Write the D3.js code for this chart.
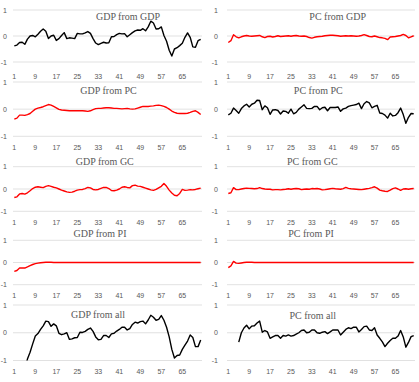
<!DOCTYPE html>
<html>
<head>
<meta charset="utf-8">
<script src="https://cdn.jsdelivr.net/npm/d3@7"></script>
<style>
  body { margin: 0; background: #fff; }
  svg { display: block; }
  .grid { stroke: #d9d9d9; stroke-width: 0.8; }
  .tick-label { font-family: "Liberation Sans", Arial, sans-serif; font-size: 7px; fill: #595959; }
  .title { font-family: "Liberation Serif", "Times New Roman", serif; font-size: 10px; fill: #595959; }
  .line { fill: none; stroke-width: 1.4; stroke-linejoin: round; }
</style>
</head>
<body>
<svg id="chart" width="419" height="382"></svg>
<script>
// impulse responses, 72 periods
var periods = d3.range(1, 73);
var xTickLabels = ["1", "9", "17", "25", "33", "41", "49", "57", "65"];
var yTicks = [1, 0, -1];

var gdpFromGdp = [-0.38,-0.35,-0.25,-0.24,-0.32,-0.12,0.0,0.02,-0.03,0.07,
  0.18,0.27,0.18,-0.1,0.0,0.03,-0.17,-0.1,0.02,0.13,
  -0.1,-0.07,-0.08,-0.1,0.1,0.08,0.08,0.12,0.17,0.1,
  -0.1,-0.27,-0.33,-0.28,-0.24,-0.27,-0.26,-0.03,-0.02,0.05,
  0.1,0.08,0.09,-0.03,0.05,0.13,0.2,0.23,0.22,0.28,
  0.2,0.35,0.57,0.5,0.27,0.28,0.35,0.02,-0.2,-0.55,
  -0.77,-0.5,-0.45,-0.37,-0.28,-0.05,0.12,-0.05,-0.42,-0.43,
  -0.18,-0.13];

var gdpFromPc = [-0.37,-0.33,-0.22,-0.22,-0.23,-0.2,-0.16,-0.08,0.0,0.04,
  0.06,0.09,0.13,0.17,0.15,0.1,0.05,-0.01,-0.03,-0.04,
  -0.05,-0.06,-0.06,-0.06,-0.06,-0.06,-0.06,-0.07,-0.08,-0.06,
  -0.02,0.02,0.03,0.03,0.04,0.05,0.05,0.04,0.03,0.03,
  0.02,0.01,0.02,0.03,0.01,0.0,0.01,0.04,0.07,0.1,
  0.1,0.1,0.11,0.12,0.14,0.15,0.13,0.1,0.06,0.0,
  -0.07,-0.12,-0.15,-0.16,-0.16,-0.16,-0.15,-0.12,-0.08,-0.06,
  -0.12,-0.2];

var gdpFromGc = [-0.38,-0.35,-0.22,-0.2,-0.23,-0.17,-0.08,0.02,0.08,0.1,
  0.08,0.06,0.12,0.15,0.12,0.08,0.05,0.0,-0.05,-0.09,
  -0.13,-0.15,-0.14,-0.1,-0.05,-0.03,-0.02,0.02,0.07,0.05,
  -0.02,-0.04,-0.02,0.03,0.07,0.07,0.02,-0.07,-0.08,-0.05,
  0.0,0.08,0.1,0.07,0.05,0.15,0.17,0.13,0.12,0.08,
  0.04,0.0,-0.04,-0.06,-0.02,0.05,0.12,0.25,0.12,-0.05,
  -0.18,-0.28,-0.3,-0.2,-0.02,-0.06,-0.05,-0.03,-0.04,-0.02,
  0.01,0.04];

var gdpFromPi = [-0.4,-0.36,-0.25,-0.24,-0.25,-0.2,-0.14,-0.09,-0.05,-0.03,
  -0.01,0.0,0.01,0.01,0.01,0,0,0,0,0,
  0,0,0,0,0,0,0,0,0,0,
  0,0,0,0,0,0,0,0,0,0,
  0,0,0,0,0,0,0,0,0,0,
  0,0,0,0,0,0,0,0,0,0,
  0,0,0,0,0,0,0,0,0,0,
  0,0];

var gdpFromAll = [null,null,null,null,-1.3,-0.95,-0.7,-0.4,-0.12,-0.03,
  0.12,0.25,0.42,0.4,0.23,0.32,0.25,-0.02,-0.07,-0.04,
  0.0,-0.24,-0.22,-0.18,-0.17,0.02,0.01,0.05,0.12,0.17,
  0.05,-0.15,-0.25,-0.24,-0.1,-0.1,-0.17,-0.04,-0.02,0.06,
  0.12,0.2,0.2,0.1,0.15,0.3,0.38,0.35,0.4,0.42,
  0.32,0.46,0.63,0.56,0.45,0.48,0.62,0.45,0.2,-0.15,
  -0.6,-0.91,-0.82,-0.8,-0.6,-0.45,-0.3,-0.08,-0.17,-0.5,
  -0.5,-0.26];

var pcFromGdp = [-0.25,-0.18,0.05,-0.03,-0.07,-0.03,0.0,0.02,0.0,-0.01,
  0.0,0.01,0.02,-0.03,-0.06,-0.02,-0.01,-0.04,-0.02,0.01,
  -0.02,-0.01,0.0,0.01,-0.01,0.01,0.02,0.0,-0.01,0.0,
  -0.02,-0.06,-0.08,-0.05,-0.03,-0.02,-0.01,0.01,0.02,0.03,
  0.03,0.02,0.01,-0.01,0.0,0.01,0.0,0.01,0.0,-0.01,
  0.0,0.02,0.05,0.02,-0.02,-0.03,0.0,-0.03,-0.06,-0.07,
  -0.09,-0.14,-0.04,-0.03,-0.02,0.0,0.02,0.06,0.02,-0.07,
  -0.03,0.01];

var pcFromPc = [-0.21,-0.15,0.04,-0.05,-0.15,0.02,0.12,0.18,0.08,0.18,
  0.22,0.33,0.32,-0.02,0.12,0.05,-0.19,-0.03,-0.02,-0.05,
  -0.18,-0.07,-0.08,-0.15,0.0,-0.17,-0.12,0.0,0.08,0.16,
  0.03,0.02,0.03,0.1,0.1,-0.02,0.05,0.07,-0.06,0.06,
  0.06,0.06,0.08,-0.08,0.01,0.04,0.1,0.13,0.15,0.17,
  0.22,0.02,0.2,0.28,0.23,0.05,0.1,0.14,-0.14,-0.16,
  -0.22,-0.33,-0.15,-0.25,-0.23,-0.13,0.04,-0.2,-0.52,-0.3,
  -0.16,-0.17];

var pcFromGc = [-0.2,-0.17,0.06,-0.03,-0.03,0.0,0.02,0.04,0.03,0.02,
  0.01,0.02,0.06,0.02,0.0,-0.01,-0.01,-0.04,-0.03,-0.03,
  -0.04,-0.02,-0.01,0.01,-0.01,0.01,0.02,0.01,-0.03,-0.01,
  0.0,-0.01,0.02,0.01,0.02,0.0,-0.04,-0.03,-0.01,0.01,
  0.03,0.01,0.0,-0.01,0.02,0.07,0.03,0.01,0.0,-0.01,
  -0.02,-0.03,-0.01,0.01,0.03,0.06,0.1,0.04,-0.05,-0.08,
  -0.1,-0.11,-0.05,0.02,0.05,0.0,-0.06,0.0,0.01,-0.01,
  0.01,0.02];

var pcFromPi = [-0.23,-0.15,0.05,-0.03,-0.04,-0.02,0.0,0.01,0.01,0.01,
  0,0,0,0,0,0,0,0,0,0,
  0,0,0,0,0,0,0,0,0,0,
  0,0,0,0,0,0,0,0,0,0,
  0,0,0,0,0,0,0,0,0,0,
  0,0,0,0,0,0,0,0,0,0,
  0,0,0,0,0,0,0,0,0,0,
  0,0];

var pcFromAll = [null,null,null,null,-0.34,0.0,0.17,0.27,0.14,0.24,
  0.25,0.35,0.42,0.02,0.08,0.03,-0.2,-0.15,-0.1,-0.1,
  -0.2,-0.1,-0.12,-0.08,-0.12,-0.1,-0.05,0.0,0.08,0.1,
  0.0,0.02,0.1,0.1,0.0,-0.02,0.02,0.04,-0.03,0.03,
  0.1,0.1,0.1,-0.08,0.02,0.12,0.18,0.15,0.2,0.2,
  0.03,0.12,0.22,0.24,0.1,0.08,0.18,-0.08,-0.2,-0.33,
  -0.5,-0.38,-0.28,-0.2,-0.2,-0.12,0.08,-0.15,-0.52,-0.35,
  -0.14,-0.1];

// layout of the 2 x 5 grid of small charts
var cols = [
  {x0: 13, x1: 202, labelX: 7},
  {x0: 227, x1: 415, labelX: 218}
];
var rows = [
  {top: 10, bottom: 62, labelGap: 16.5},
  {top: 82, bottom: 136.3, labelGap: 13.5},
  {top: 166.7, bottom: 211.3, labelGap: 13.5},
  {top: 240.3, bottom: 284.7, labelGap: 13.5},
  {top: 305, bottom: 360.5, labelGap: 13.5}
];

var panels = [
  {title: "GDP from GDP", values: gdpFromGdp, color: "#000", row: 0, col: 0, tx: 128, ty: 16.7},
  {title: "PC from GDP",  values: pcFromGdp,  color: "#ff0000", row: 0, col: 1, tx: 337.7, ty: 16.7},
  {title: "GDP from PC",  values: gdpFromPc,  color: "#ff0000", row: 1, col: 0, tx: 108.5, ty: 90.7},
  {title: "PC from PC",   values: pcFromPc,   color: "#000", row: 1, col: 1, tx: 318.3, ty: 90.7},
  {title: "GDP from GC",  values: gdpFromGc,  color: "#ff0000", row: 2, col: 0, tx: 104.8, ty: 161.7},
  {title: "PC from GC",   values: pcFromGc,   color: "#ff0000", row: 2, col: 1, tx: 312.3, ty: 161.7},
  {title: "GDP from PI",  values: gdpFromPi,  color: "#ff0000", row: 3, col: 0, tx: 100, ty: 233},
  {title: "PC from PI",   values: pcFromPi,   color: "#ff0000", row: 3, col: 1, tx: 311, ty: 233},
  {title: "GDP from all", values: gdpFromAll, color: "#000", row: 4, col: 0, tx: 98, ty: 314.3},
  {title: "PC from all",  values: pcFromAll,  color: "#000", row: 4, col: 1, tx: 312.8, ty: 315}
];

var svg = d3.select("#chart");
var defs = svg.append("defs");

panels.forEach(function(p, k) {
    var c = cols[p.col], r = rows[p.row];

    var x = d3.scalePoint()
              .domain(periods)
              .range([c.x0, c.x1])
              .padding(0.5);

    var y = d3.scaleLinear()
              .domain([-1, 1])
              .range([r.bottom, r.top]);

    var g = svg.append("g");

    // gridlines
    g.selectAll(".grid")
     .data(yTicks)
     .enter()
     .append("line")
     .attr("class", "grid")
     .attr("x1", c.x0)
     .attr("x2", c.x1)
     .attr("y1", d => y(d))
     .attr("y2", d => y(d));

    // y labels
    g.selectAll(".ylab")
     .data(yTicks)
     .enter()
     .append("text")
     .attr("class", "tick-label")
     .attr("text-anchor", "end")
     .attr("x", c.labelX)
     .attr("y", d => y(d) + 2.5)
     .text(d => d);

    // x labels
    g.selectAll(".xlab")
     .data(xTickLabels)
     .enter()
     .append("text")
     .attr("class", "tick-label")
     .attr("text-anchor", "middle")
     .attr("x", d => x(+d))
     .attr("y", r.bottom + r.labelGap)
     .text(d => d);

    // clip to the -1..1 range
    defs.append("clipPath")
        .attr("id", "clip" + k)
        .append("rect")
        .attr("x", c.x0)
        .attr("y", r.top)
        .attr("width", c.x1 - c.x0)
        .attr("height", r.bottom - r.top);

    var line = d3.line()
                 .defined(d => d[1] !== null)
                 .x(d => x(d[0]))
                 .y(d => y(d[1]));

    g.append("path")
     .attr("class", "line")
     .attr("clip-path", "url(#clip" + k + ")")
     .attr("stroke", p.color)
     .datum(periods.map((t, i) => [t, p.values[i]]))
     .attr("d", line);

    g.append("text")
     .attr("class", "title")
     .attr("text-anchor", "middle")
     .attr("x", p.tx)
     .attr("y", p.ty + 3.5)
     .text(p.title);
});
</script>
</body>
</html>
